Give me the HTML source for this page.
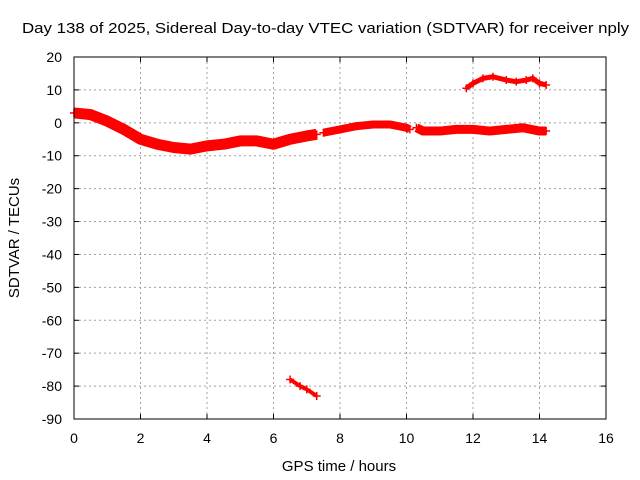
<!DOCTYPE html>
<html><head><meta charset="utf-8"><style>
body{margin:0;background:#fff}
svg{display:block;font-family:"Liberation Sans",sans-serif;font-size:14px}
</style></head><body>
<svg id="c" width="640" height="480">
<rect x="0" y="0" width="640" height="480" fill="#fff"/>
<text x="22" y="33" textLength="607" lengthAdjust="spacingAndGlyphs" style="font-size:15px">Day 138 of 2025, Sidereal Day-to-day VTEC variation (SDTVAR) for receiver nply</text>
<text x="339" y="471" text-anchor="middle" style="font-size:15px">GPS time / hours</text>
<text transform="translate(19,238) rotate(-90)" text-anchor="middle" style="font-size:15px">SDTVAR / TECUs</text>
<g id="grid"></g><g id="series"></g>
<rect x="74" y="57" width="532" height="362" fill="none" stroke="#000"/>
</svg>
<script>
const xTicks=[0,2,4,6,8,10,12,14,16];
const yTicks=[20,10,0,-10,-20,-30,-40,-50,-60,-70,-80,-90];
const seg1T=[0,0.5,1,1.5,2,2.5,3,3.5,4,4.5,5,5.5,6,6.5,7,7.3];
const seg1V=[3,2.5,0.5,-2,-5,-6.5,-7.5,-8,-7,-6.5,-5.5,-5.5,-6.5,-5,-4,-3.5];
const seg2T=[7.5,8,8.5,9,9.5,10,10.1];
const seg2V=[-3,-2,-1,-0.5,-0.5,-1.5,-2];
const seg3T=[10.3,10.5,11,11.5,12,12.5,13,13.5,14,14.2];
const seg3V=[-1.5,-2.5,-2.5,-2,-2,-2.5,-2,-1.5,-2.5,-2.5];
const seg4T=[11.8,12,12.3,12.6,13,13.3,13.6,13.8,14,14.2];
const seg4V=[10.5,12,13.5,14,13,12.5,13,13.5,12,11.5];
const seg5T=[6.5,6.8,7,7.3];
const seg5V=[-78,-80,-81,-83];
const X=t=>74+t/16*532, Y=v=>57+(20-v)/110*362;
const NS='http://www.w3.org/2000/svg';
const g=document.getElementById('grid'),s=document.getElementById('series');
function mk(tag,a,p){const e=document.createElementNS(NS,tag);for(const k in a)e.setAttribute(k,a[k]);p.appendChild(e);return e;}
xTicks.forEach(t=>{const x=X(t);
 if(t>0&&t<16){const l=mk('line',{x1:x,x2:x,y1:57,y2:419,stroke:'#a0a0a0','stroke-dasharray':'2,3'},g);
 
 }
 mk('line',{x1:x,x2:x,y1:419,y2:414,stroke:'#000'},g);mk('line',{x1:x,x2:x,y1:57,y2:62,stroke:'#000'},g);
 const tx=mk('text',{x:x,y:443,'text-anchor':'middle'},g);tx.textContent=t;
 
 });
yTicks.forEach(v=>{const y=Y(v);
 if(v<20&&v>-90){const l=mk('line',{x1:74,x2:606,y1:y,y2:y,stroke:'#a0a0a0','stroke-dasharray':'2,3'},g);
 
 }
 mk('line',{x1:74,x2:79,y1:y,y2:y,stroke:'#000'},g);mk('line',{x1:606,x2:601,y1:y,y2:y,stroke:'#000'},g);
 const tx=mk('text',{x:62,y:y+5,'text-anchor':'end'},g);tx.textContent=v;
 
 });
function seg(T,V,w,name){const pts=T.map((t,i)=>X(t)+','+Y(V[i])).join(' ');
 const p=mk('polyline',{points:pts,fill:'none',stroke:'#f00','stroke-width':w,'stroke-linejoin':'round'},s);
 
 
 T.forEach((t,i)=>{const x=X(t),y=Y(V[i]);mk('path',{d:`M${x-4},${y}H${x+4}M${x},${y-4}V${y+4}`,stroke:'#f00','stroke-width':1.5},s);});}
seg(seg1T,seg1V,11,'series-segment-1');
seg(seg2T,seg2V,8,'series-segment-2');
seg(seg3T,seg3V,9,'series-segment-3');
seg(seg4T,seg4V,5,'series-segment-4');
seg(seg5T,seg5V,4,'series-segment-5');
</script>
</body></html>
